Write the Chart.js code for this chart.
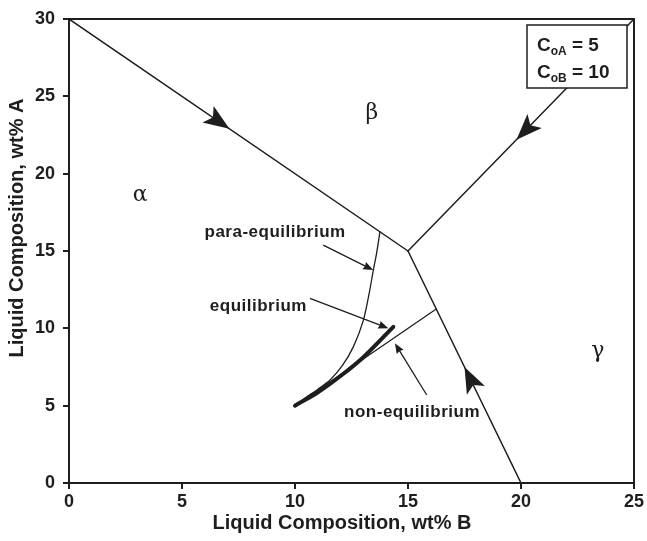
<!DOCTYPE html>
<html>
<head>
<meta charset="utf-8">
<script src="https://cdn.jsdelivr.net/npm/chart.js"></script>
<style>
  html, body { margin: 0; padding: 0; background: #fff; }
</style>
</head>
<body>
<canvas id="myChart" width="647" height="541"></canvas>
<script>
// phase boundary lines (liquid composition, wt% B vs wt% A)
const abX = [0, 15], abY = [30, 15];
const bgX = [15, 25], bgY = [15, 30];
const agX = [15, 20], agY = [15, 0];

// solidification paths starting at Co = (10, 5)
const paraX = [10, 10.4, 11, 11.55, 12.1, 12.58, 13.02, 13.28, 13.47, 13.61, 13.76];
const paraY = [5, 5.45, 6.05, 6.66, 7.6, 8.8, 10.5, 12.25, 13.8, 14.85, 16.25];
const eqX = [10, 11, 12, 13, 14.35];
const eqY = [5, 5.85, 6.9, 8.1, 10.1];
const nonEqX = [10, 16.25];
const nonEqY = [5, 11.25];

// arrowheads on the boundary lines, all pointing at the ternary point
const headX = [7.1, 19.8, 17.5];
const headY = [22.9, 22.2, 7.5];
const headToX = [15, 15, 15];
const headToY = [15, 15, 15];

// phase labels
const phaseNames = ['α', 'β', 'γ'];
const phaseX = [3.15, 13.4, 23.4];
const phaseY = [18.6, 23.9, 8.5];

// path labels and their pointer arrows
const pathNames = ['para-equilibrium', 'equilibrium', 'non-equilibrium'];
const pathX = [9.12, 8.38, 15.18];
const pathY = [16.22, 11.4, 4.59];
const ptrFromX = [11.25, 10.66, 15.83], ptrFromY = [15.38, 11.94, 5.69];
const ptrToX = [13.46, 14.13, 14.42], ptrToY = [13.77, 10.0, 9.03];

const boxLines = [['C', 'oA', ' = 5'], ['C', 'oB', ' = 10']];

const FONT = '"Liberation Sans", Arial, Helvetica, sans-serif';
const INK = '#1e1e1e';

const pts = (xs, ys) => xs.map((x, i) => ({ x: x, y: ys[i] }));
const line = (xs, ys, w, tension) => ({
  data: pts(xs, ys),
  showLine: true,
  borderColor: INK,
  borderWidth: w,
  pointRadius: 0,
  tension: tension || 0,
  borderCapStyle: 'round'
});

function drawHead(ctx, tx, ty, ang, len, hw, notch) {
  const ux = Math.cos(ang), uy = Math.sin(ang);
  const nx = -uy, ny = ux;
  ctx.beginPath();
  ctx.moveTo(tx, ty);
  ctx.lineTo(tx - ux * len + nx * hw, ty - uy * len + ny * hw);
  ctx.lineTo(tx - ux * (len - notch), ty - uy * (len - notch));
  ctx.lineTo(tx - ux * len - nx * hw, ty - uy * len - ny * hw);
  ctx.closePath();
  ctx.fill();
}

const overlay = {
  id: 'overlay',
  afterDatasetsDraw(chart) {
    const { ctx, chartArea: a, scales: { x, y } } = chart;
    ctx.save();
    ctx.fillStyle = INK;
    ctx.strokeStyle = INK;

    // big arrowheads
    headX.forEach((hx, i) => {
      const tx = x.getPixelForValue(hx), ty = y.getPixelForValue(headY[i]);
      const ang = Math.atan2(y.getPixelForValue(headToY[i]) - ty, x.getPixelForValue(headToX[i]) - tx);
      drawHead(ctx, tx, ty, ang, 26, 10, 6);
    });

    // pointer arrows
    ctx.lineWidth = 1.3;
    ptrFromX.forEach((fx, i) => {
      const x0 = x.getPixelForValue(fx), y0 = y.getPixelForValue(ptrFromY[i]);
      const x1 = x.getPixelForValue(ptrToX[i]), y1 = y.getPixelForValue(ptrToY[i]);
      const ang = Math.atan2(y1 - y0, x1 - x0);
      ctx.beginPath();
      ctx.moveTo(x0, y0);
      ctx.lineTo(x1 - Math.cos(ang) * 6, y1 - Math.sin(ang) * 6);
      ctx.stroke();
      drawHead(ctx, x1, y1, ang, 10, 4, 1);
    });

    // path labels
    ctx.font = 'bold 17px ' + FONT;
    ctx.letterSpacing = '0.5px';
    ctx.textAlign = 'center';
    ctx.textBaseline = 'middle';
    pathNames.forEach((t, i) => {
      ctx.fillText(t, x.getPixelForValue(pathX[i]), y.getPixelForValue(pathY[i]));
    });
    ctx.letterSpacing = '0px';

    // phase labels
    ctx.font = '22px "DejaVu Serif", "Liberation Serif", serif';
    phaseNames.forEach((t, i) => {
      ctx.fillText(t, x.getPixelForValue(phaseX[i]), y.getPixelForValue(phaseY[i]));
    });

    // frame
    ctx.lineWidth = 2;
    ctx.strokeRect(a.left, a.top, a.right - a.left, a.bottom - a.top);

    // composition box
    const bx = a.right - 107, by = a.top + 6, bw = 100, bh = 63;
    ctx.fillStyle = '#fff';
    ctx.fillRect(bx, by, bw, bh);
    ctx.lineWidth = 1.5;
    ctx.strokeRect(bx, by, bw, bh);
    ctx.fillStyle = INK;
    ctx.textAlign = 'left';
    ctx.textBaseline = 'alphabetic';
    boxLines.forEach((parts, i) => {
      let cx = bx + 10;
      const base = by + 26 + i * 27;
      ctx.font = 'bold 19px ' + FONT;
      ctx.fillText(parts[0], cx, base);
      cx += ctx.measureText(parts[0]).width;
      ctx.font = 'bold 12px ' + FONT;
      ctx.fillText(parts[1], cx, base + 4);
      cx += ctx.measureText(parts[1]).width;
      ctx.font = 'bold 19px ' + FONT;
      ctx.fillText(parts[2], cx, base);
    });

    // axis titles
    ctx.font = 'bold 20px ' + FONT;
    ctx.textAlign = 'center';
    ctx.textBaseline = 'middle';
    ctx.fillText('Liquid Composition, wt% B', 342, 523);
    ctx.translate(17, 228);
    ctx.rotate(-Math.PI / 2);
    ctx.fillText('Liquid Composition, wt% A', 0, 0);
    ctx.restore();
  }
};

new Chart('myChart', {
  type: 'scatter',
  data: {
    datasets: [
      line(abX, abY, 1.5),
      line(bgX, bgY, 1.5),
      line(agX, agY, 1.5),
      line(paraX, paraY, 1.3, 0.3),
      line(nonEqX, nonEqY, 1.3),
      line(eqX, eqY, 4, 0.3)
    ]
  },
  options: {
    responsive: false,
    devicePixelRatio: 1,
    animation: false,
    layout: { padding: { top: 19, right: 13, left: 0, bottom: 0 } },
    plugins: { legend: { display: false }, tooltip: { enabled: false } },
    scales: {
      x: {
        type: 'linear', min: 0, max: 25,
        afterFit: s => { s.height = 58; },
        grid: { drawOnChartArea: false, drawTicks: true, tickLength: 6, color: INK, lineWidth: 2 },
        border: { display: true, color: INK, width: 2 },
        ticks: { stepSize: 5, padding: 2, color: INK, font: { family: FONT, size: 18, weight: 'bold' } }
      },
      y: {
        type: 'linear', min: 0, max: 30,
        afterFit: s => { s.width = 69; },
        grid: { drawOnChartArea: false, drawTicks: true, tickLength: 6, color: INK, lineWidth: 2 },
        border: { display: true, color: INK, width: 2 },
        ticks: { stepSize: 5, padding: 8, color: INK, font: { family: FONT, size: 18, weight: 'bold' } }
      }
    }
  },
  plugins: [overlay]
});
</script>
</body>
</html>
